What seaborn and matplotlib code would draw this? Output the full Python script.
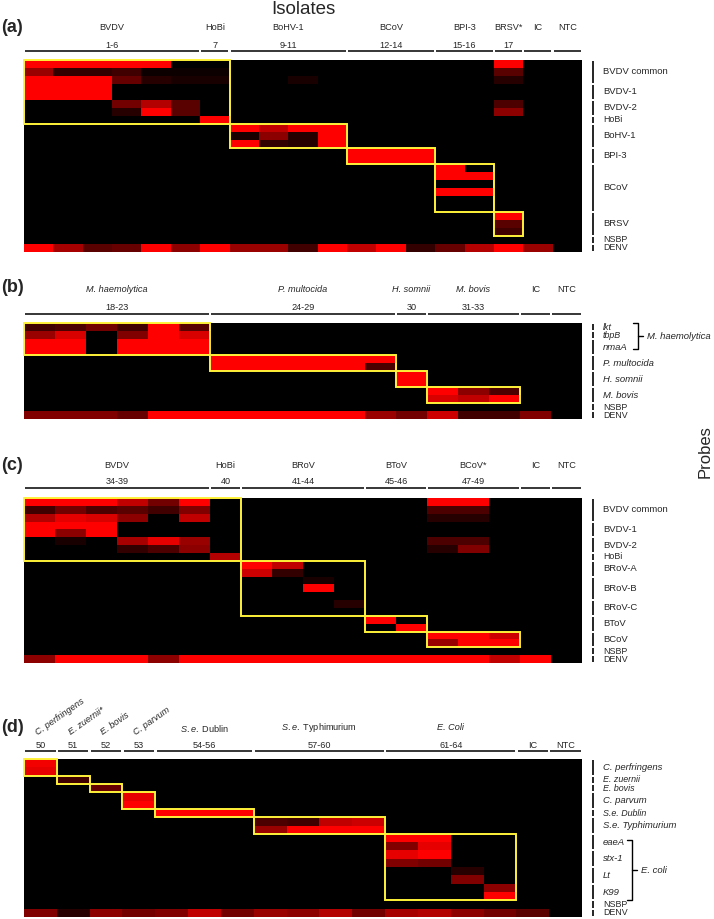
import numpy as np
import pandas as pd
import seaborn as sns
import matplotlib
import matplotlib.pyplot as plt
from matplotlib.colors import LinearSegmentedColormap
from matplotlib.patches import Rectangle
from matplotlib.transforms import Affine2D, blended_transform_factory

matplotlib.use("agg")

# ---------------- panel (a): viral isolates ----------------
a_names = ["BVDV", "HoBi", "BoHV-1", "BCoV", "BPI-3", "BRSV*", "IC", "NTC"]
a_numbers = ["1-6", "7", "9-11", "12-14", "15-16", "17", "", ""]
a_widths = [6, 1, 4, 3, 2, 1, 1, 1]
a_probes = ["BVDV common", "BVDV-1", "BVDV-2", "HoBi", "BoHV-1", "BPI-3",
            "BCoV", "BRSV", "NSBP", "DENV"]
a_spans = [3, 2, 2, 1, 3, 2, 6, 3, 1, 1]
a_values = [
    [1, 1, 1, 1, 1, 0, 0, 0, 0, 0, 0, 0, 0, 0, 0, 0, 1, 0, 0],
    [.6, .2, .2, .25, .05, .05, .05, 0, 0, 0, 0, 0, 0, 0, 0, 0, .35, 0, 0],
    [1, 1, 1, .4, .15, .1, .1, 0, 0, .1, 0, 0, 0, 0, 0, 0, .15, 0, 0],
    [1, 1, 1, 0, 0, 0, 0, 0, 0, 0, 0, 0, 0, 0, 0, 0, 0, 0, 0],
    [1, 1, 1, 0, 0, 0, 0, 0, 0, 0, 0, 0, 0, 0, 0, 0, 0, 0, 0],
    [0, 0, 0, .45, .7, .35, 0, 0, 0, 0, 0, 0, 0, 0, 0, 0, .3, 0, 0],
    [0, 0, 0, .15, 1, .35, 0, 0, 0, 0, 0, 0, 0, 0, 0, 0, .55, 0, 0],
    [0, 0, 0, 0, 0, 0, 1, 0, 0, 0, 0, 0, 0, 0, 0, 0, 0, 0, 0],
    [0, 0, 0, 0, 0, 0, 0, 1, .75, 1, 1, 0, 0, 0, 0, 0, 0, 0, 0],
    [0, 0, 0, 0, 0, 0, 0, .1, .55, .15, 1, 0, 0, 0, 0, 0, 0, 0, 0],
    [0, 0, 0, 0, 0, 0, 0, 1, .2, .15, 1, 0, 0, 0, 0, 0, 0, 0, 0],
    [0, 0, 0, 0, 0, 0, 0, 0, 0, 0, 0, 1, 1, 1, 0, 0, 0, 0, 0],
    [0, 0, 0, 0, 0, 0, 0, 0, 0, 0, 0, 1, 1, 1, 0, 0, 0, 0, 0],
    [0, 0, 0, 0, 0, 0, 0, 0, 0, 0, 0, 0, 0, 0, 1, 0, 0, 0, 0],
    [0, 0, 0, 0, 0, 0, 0, 0, 0, 0, 0, 0, 0, 0, 1, 1, 0, 0, 0],
    [0, 0, 0, 0, 0, 0, 0, 0, 0, 0, 0, 0, 0, 0, 0, 0, 0, 0, 0],
    [0, 0, 0, 0, 0, 0, 0, 0, 0, 0, 0, 0, 0, 0, 1, 1, 0, 0, 0],
    [0, 0, 0, 0, 0, 0, 0, 0, 0, 0, 0, 0, 0, 0, 0, 0, 0, 0, 0],
    [0, 0, 0, 0, 0, 0, 0, 0, 0, 0, 0, 0, 0, 0, 0, 0, 0, 0, 0],
    [0, 0, 0, 0, 0, 0, 0, 0, 0, 0, 0, 0, 0, 0, 0, 0, 1, 0, 0],
    [0, 0, 0, 0, 0, 0, 0, 0, 0, 0, 0, 0, 0, 0, 0, 0, .35, 0, 0],
    [0, 0, 0, 0, 0, 0, 0, 0, 0, 0, 0, 0, 0, 0, 0, 0, .25, 0, 0],
    [0, 0, 0, 0, 0, 0, 0, 0, 0, 0, 0, 0, 0, 0, 0, 0, 0, 0, 0],
    [1, .65, .35, .4, 1, .55, 1, .6, .6, .25, 1, .75, 1, .2, .4, .7, 1, .6, 0],
]
# (row start, row end, col start, col end)
a_boxes = [(0, 8, 0, 7), (8, 11, 7, 11), (11, 13, 11, 14), (13, 19, 14, 16), (19, 22, 16, 17)]

# ---------------- panel (b): bacterial isolates ----------------
b_names = ["M. haemolytica", "P. multocida", "H. somnii", "M. bovis", "IC", "NTC"]
b_italic = [True, True, True, True, False, False]
b_numbers = ["18-23", "24-29", "30", "31-33", "", ""]
b_widths = [6, 6, 1, 3, 1, 1]
b_probes = ["lkt", "tbpB", "nmaA", "P. multocida", "H. somnii", "M. bovis", "NSBP", "DENV"]
b_probe_italic = [True, True, True, True, True, True, False, False]
b_spans = [1, 1, 2, 2, 2, 2, 1, 1]
b_values = [
    [.25, .3, .45, .25, 1, .35, 0, 0, 0, 0, 0, 0, 0, 0, 0, 0, 0, 0],
    [.6, .85, 0, .5, 1, .85, 0, 0, 0, 0, 0, 0, 0, 0, 0, 0, 0, 0],
    [1, 1, 0, 1, 1, 1, 0, 0, 0, 0, 0, 0, 0, 0, 0, 0, 0, 0],
    [1, 1, 0, 1, 1, 1, 0, 0, 0, 0, 0, 0, 0, 0, 0, 0, 0, 0],
    [0, 0, 0, 0, 0, 0, 1, 1, 1, 1, 1, 1, 0, 0, 0, 0, 0, 0],
    [0, 0, 0, 0, 0, 0, 1, 1, 1, 1, 1, .3, 0, 0, 0, 0, 0, 0],
    [0, 0, 0, 0, 0, 0, 0, 0, 0, 0, 0, 0, 1, 0, 0, 0, 0, 0],
    [0, 0, 0, 0, 0, 0, 0, 0, 0, 0, 0, 0, 1, 0, 0, 0, 0, 0],
    [0, 0, 0, 0, 0, 0, 0, 0, 0, 0, 0, 0, 0, 1, .55, .3, 0, 0],
    [0, 0, 0, 0, 0, 0, 0, 0, 0, 0, 0, 0, 0, .85, .75, 1, 0, 0],
    [0, 0, 0, 0, 0, 0, 0, 0, 0, 0, 0, 0, 0, 0, 0, 0, 0, 0],
    [.5, .5, .5, .4, 1, 1, 1, 1, 1, 1, 1, .6, .45, .8, .25, .25, .5, 0],
]
b_boxes = [(0, 4, 0, 6), (4, 6, 6, 12), (6, 8, 12, 13), (8, 10, 13, 16)]

# ---------------- panel (c): enteric viruses ----------------
c_names = ["BVDV", "HoBi", "BRoV", "BToV", "BCoV*", "IC", "NTC"]
c_numbers = ["34-39", "40", "41-44", "45-46", "47-49", "", ""]
c_widths = [6, 1, 4, 2, 3, 1, 1]
c_probes = ["BVDV common", "BVDV-1", "BVDV-2", "HoBi", "BRoV-A", "BRoV-B", "BRoV-C",
            "BToV", "BCoV", "NSBP", "DENV"]
c_spans = [3, 2, 2, 1, 2, 3, 2, 2, 2, 1, 1]
c_values = [
    [1, 1, 1, .75, .45, 1, 0, 0, 0, 0, 0, 0, 0, 1, 1, 0, 0, 0],
    [.25, .45, .3, .35, .25, .5, 0, 0, 0, 0, 0, 0, 0, .3, .3, 0, 0, 0],
    [.7, .9, .85, .55, 0, .75, 0, 0, 0, 0, 0, 0, 0, .15, .15, 0, 0, 0],
    [1, 1, 1, 0, 0, 0, 0, 0, 0, 0, 0, 0, 0, 0, 0, 0, 0, 0],
    [1, .55, 1, 0, 0, 0, 0, 0, 0, 0, 0, 0, 0, 0, 0, 0, 0, 0],
    [0, .1, 0, .65, .9, .6, 0, 0, 0, 0, 0, 0, 0, .3, .3, 0, 0, 0],
    [0, 0, 0, .2, .3, .55, 0, 0, 0, 0, 0, 0, 0, .15, .5, 0, 0, 0],
    [0, 0, 0, 0, 0, 0, .7, 0, 0, 0, 0, 0, 0, 0, 0, 0, 0, 0],
    [0, 0, 0, 0, 0, 0, 0, 1, .75, 0, 0, 0, 0, 0, 0, 0, 0, 0],
    [0, 0, 0, 0, 0, 0, 0, .8, .2, 0, 0, 0, 0, 0, 0, 0, 0, 0],
    [0, 0, 0, 0, 0, 0, 0, 0, 0, .1, 0, 0, 0, 0, 0, 0, 0, 0],
    [0, 0, 0, 0, 0, 0, 0, 0, 0, 1, 0, 0, 0, 0, 0, 0, 0, 0],
    [0, 0, 0, 0, 0, 0, 0, 0, 0, 0, 0, 0, 0, 0, 0, 0, 0, 0],
    [0, 0, 0, 0, 0, 0, 0, 0, 0, 0, .15, 0, 0, 0, 0, 0, 0, 0],
    [0, 0, 0, 0, 0, 0, 0, 0, 0, 0, 0, 0, 0, 0, 0, 0, 0, 0],
    [0, 0, 0, 0, 0, 0, 0, 0, 0, 0, 0, 1, 0, 0, 0, 0, 0, 0],
    [0, 0, 0, 0, 0, 0, 0, 0, 0, 0, 0, 0, 1, 0, 0, 0, 0, 0],
    [0, 0, 0, 0, 0, 0, 0, 0, 0, 0, 0, 0, 0, 1, 1, .8, 0, 0],
    [0, 0, 0, 0, 0, 0, 0, 0, 0, 0, 0, 0, 0, .6, 1, 1, 0, 0],
    [0, 0, 0, 0, 0, 0, 0, 0, 0, 0, 0, 0, 0, 0, 0, 0, 0, 0],
    [.55, 1, 1, 1, .55, 1, 1, 1, 1, 1, 1, 1, 1, 1, 1, .75, 1, 0],
]
c_boxes = [(0, 8, 0, 7), (8, 15, 7, 11), (15, 17, 11, 13), (17, 19, 13, 16)]

# ---------------- panel (d): enteric bacteria / parasites ----------------
d_names = ["C. perfringens", "E. zuernii*", "E. bovis", "C. parvum",
           r"$\mathit{S.e.}$ Dublin", r"$\mathit{S.e.}$ Typhimurium", "E. Coli", "", ""]
d_rotated = [True, True, True, True, False, False, False, False, False]
d_italic = [True, True, True, True, False, False, True, False, False]
d_numbers = ["50", "51", "52", "53", "54-56", "57-60", "61-64", "IC", "NTC"]
d_widths = [1, 1, 1, 1, 3, 4, 4, 1, 1]
d_probes = ["C. perfringens", "E. zuernii", "E. bovis", "C. parvum", "S.e. Dublin",
            "S.e. Typhimurium", "eaeA", "stx-1", "Lt", "K99", "NSBP", "DENV"]
d_probe_italic = [True] * 10 + [False, False]
d_spans = [2, 1, 1, 2, 1, 2, 2, 2, 2, 2, 1, 1]
d_values = [
    [.95, 0, 0, 0, 0, 0, 0, 0, 0, 0, 0, 0, 0, 0, 0, 0, 0],
    [.9, 0, 0, 0, 0, 0, 0, 0, 0, 0, 0, 0, 0, 0, 0, 0, 0],
    [0, .25, 0, 0, 0, 0, 0, 0, 0, 0, 0, 0, 0, 0, 0, 0, 0],
    [0, 0, .4, 0, 0, 0, 0, 0, 0, 0, 0, 0, 0, 0, 0, 0, 0],
    [0, 0, 0, .9, 0, 0, 0, 0, 0, 0, 0, 0, 0, 0, 0, 0, 0],
    [0, 0, 0, 1, 0, 0, 0, 0, 0, 0, 0, 0, 0, 0, 0, 0, 0],
    [0, 0, 0, 0, 1, 1, 1, 0, 0, 0, 0, 0, 0, 0, 0, 0, 0],
    [0, 0, 0, 0, 0, 0, 0, .3, .25, .75, .8, 0, 0, 0, 0, 0, 0],
    [0, 0, 0, 0, 0, 0, 0, .6, 1, 1, 1, 0, 0, 0, 0, 0, 0],
    [0, 0, 0, 0, 0, 0, 0, 0, 0, 0, 0, 1, 1, 0, 0, 0, 0],
    [0, 0, 0, 0, 0, 0, 0, 0, 0, 0, 0, .5, .9, 0, 0, 0, 0],
    [0, 0, 0, 0, 0, 0, 0, 0, 0, 0, 0, .9, 1, 0, 0, 0, 0],
    [0, 0, 0, 0, 0, 0, 0, 0, 0, 0, 0, .5, .45, 0, 0, 0, 0],
    [0, 0, 0, 0, 0, 0, 0, 0, 0, 0, 0, 0, 0, .15, 0, 0, 0],
    [0, 0, 0, 0, 0, 0, 0, 0, 0, 0, 0, 0, 0, .5, 0, 0, 0],
    [0, 0, 0, 0, 0, 0, 0, 0, 0, 0, 0, 0, 0, 0, .55, 0, 0],
    [0, 0, 0, 0, 0, 0, 0, 0, 0, 0, 0, 0, 0, 0, 1, 0, 0],
    [0, 0, 0, 0, 0, 0, 0, 0, 0, 0, 0, 0, 0, 0, 0, 0, 0],
    [.5, .15, .55, .45, .5, .75, .45, .6, .55, .7, .45, .65, .7, .55, .45, .35, 0],
]
d_boxes = [(0, 2, 0, 1), (2, 3, 1, 2), (3, 4, 2, 3), (4, 6, 3, 4), (6, 7, 4, 7),
           (7, 9, 7, 11), (9, 17, 11, 15)]


sns.set_style("white")
plt.rcParams["font.family"] = ["Liberation Sans", "DejaVu Sans"]
plt.rcParams["mathtext.fontset"] = "custom"
plt.rcParams["mathtext.rm"] = "Liberation Sans"
plt.rcParams["mathtext.it"] = "Liberation Sans:italic"

W, H = 714, 919
fig = plt.figure(figsize=(W / 100, H / 100), dpi=100)
# pixel coordinates measured from the top-left corner of the figure
px = Affine2D().scale(1 / W, -1 / H).translate(0, 1) + fig.transFigure

cmap = LinearSegmentedColormap.from_list("blackred", ["#000000", "#ff0000"])
YELLOW = "#fff23a"
SMALL = 6.6


def heat_axes(top, bottom, left=24, right=582):
    return fig.add_axes([left / W, 1 - bottom / H, (right - left) / W, (bottom - top) / H])


def panel(letter, top, bottom, values, boxes, letter_y):
    ax = heat_axes(top, bottom)
    sns.heatmap(pd.DataFrame(values), ax=ax, cmap=cmap, vmin=0, vmax=1, cbar=False,
                xticklabels=False, yticklabels=False)
    for r0, r1, c0, c1 in boxes:
        ax.add_patch(Rectangle((c0, r0), c1 - c0, r1 - r0, fill=False,
                               edgecolor=YELLOW, lw=1.4, clip_on=False, zorder=5))
    fig.text(1, letter_y, letter, transform=px, fontsize=13, fontweight="bold",
             ha="left", va="center")
    return ax


def header(ax, names, numbers, widths, name_y, num_y, line_y,
           italic=None, rotated=None):
    head = blended_transform_factory(ax.transData, px)
    edges = np.concatenate([[0], np.cumsum(widths)])
    italic = italic or [False] * len(names)
    rotated = rotated or [False] * len(names)
    for i, (c0, c1) in enumerate(zip(edges[:-1], edges[1:])):
        xc = (c0 + c1) / 2
        style = "italic" if italic[i] else "normal"
        if rotated[i]:
            ax.text(c0 + 0.42, name_y, names[i], transform=head, fontsize=SMALL,
                    style=style, rotation=35, rotation_mode="anchor",
                    ha="left", va="baseline")
        elif names[i]:
            ax.text(xc, name_y if not any(rotated) else name_y - 7, names[i],
                    transform=head, fontsize=SMALL, style=style,
                    ha="center", va="center")
        if numbers[i]:
            ax.text(xc, num_y, numbers[i], transform=head, fontsize=SMALL,
                    ha="center", va="center")
        ax.plot([c0 + 0.04, c1 - 0.04], [line_y, line_y], transform=head,
                color="black", lw=1.1, clip_on=False, solid_capstyle="butt")


def probes(ax, labels, spans, italic=None):
    right = blended_transform_factory(px, ax.transData)
    edges = np.concatenate([[0], np.cumsum(spans)])
    italic = italic or [False] * len(labels)
    for lab, r0, r1, it in zip(labels, edges[:-1], edges[1:], italic):
        ax.plot([593, 593], [r0 + 0.12, r1 - 0.12], transform=right,
                color="black", lw=1.2, clip_on=False, solid_capstyle="butt")
        size = 6.4 if r1 - r0 == 1 else 6.8
        ax.text(603, (r0 + r1) / 2, lab, transform=right, fontsize=size,
                style="italic" if it else "normal", ha="left", va="center")


def bracket(ax, x, r0, r1, label):
    right = blended_transform_factory(px, ax.transData)
    mid = (r0 + r1) / 2
    ax.plot([x - 5, x, x, x - 5], [r0, r0, r1, r1], transform=right,
            color="black", lw=1.0, clip_on=False)
    ax.plot([x, x + 5], [mid, mid], transform=right, color="black", lw=1.0,
            clip_on=False)
    ax.text(x + 9, mid, label, transform=right, fontsize=6.8, style="italic",
            ha="left", va="center")


# (a)
ax_a = panel("(a)", 60, 252, a_values, a_boxes, 27)
header(ax_a, a_names, a_numbers, a_widths, 28, 45, 51)
probes(ax_a, a_probes, a_spans)

# (b)
ax_b = panel("(b)", 323, 419, b_values, b_boxes, 288)
header(ax_b, b_names, b_numbers, b_widths, 290, 307, 314, italic=b_italic)
probes(ax_b, b_probes, b_spans, italic=b_probe_italic)
bracket(ax_b, 638, 0.0, 3.3, "M. haemolytica")

# (c)
ax_c = panel("(c)", 498, 663, c_values, c_boxes, 465)
header(ax_c, c_names, c_numbers, c_widths, 466, 482, 488)
probes(ax_c, c_probes, c_spans)

# (d)
ax_d = panel("(d)", 759, 917, d_values, d_boxes, 727)
header(ax_d, d_names, d_numbers, d_widths, 735, 745, 751,
       italic=d_italic, rotated=d_rotated)
probes(ax_d, d_probes, d_spans, italic=d_probe_italic)
bracket(ax_d, 632, 9.7, 17.0, "E. coli")

fig.text(303, 10, "Isolates", transform=px, fontsize=13.5, ha="center", va="center")
fig.text(705, 452, "Probes", transform=px, fontsize=12, rotation=90,
         ha="center", va="center")

fig.savefig("out.png", dpi=100)
